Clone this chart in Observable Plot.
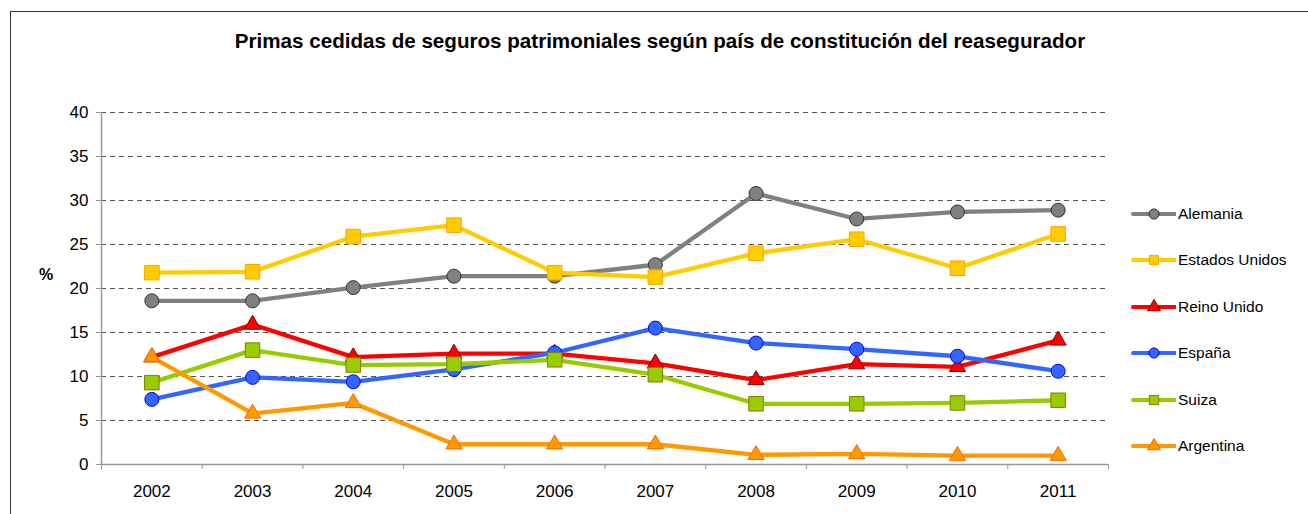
<!DOCTYPE html>
<html>
<head>
<meta charset="utf-8">
<script src="https://cdn.jsdelivr.net/npm/d3@7"></script>
<script src="https://cdn.jsdelivr.net/npm/@observablehq/plot@0.6"></script>
<style>
  html, body { margin: 0; padding: 0; background: #fff; }
  #wrap { position: relative; width: 1308px; height: 514px; overflow: hidden; font-family: Arial, "Liberation Sans", sans-serif; color: #000; }
  #border { position: absolute; left: 10px; top: 11px; width: 1400px; height: 600px; border: 1px solid #333; box-sizing: border-box; }
  #title { position: absolute; left: 0; width: 1320px; top: 30px; text-align: center; font-weight: bold; font-size: 20.6px; line-height: 22px; white-space: nowrap; }
  #ylab { position: absolute; left: 39px; top: 266px; font-weight: bold; font-size: 16px; line-height: 18px; }
  #chart { position: absolute; left: 0; top: 0; }
  .leg { position: absolute; left: 1130px; height: 20px; display: flex; align-items: center; font-size: 15.5px; white-space: nowrap; }
  .leg svg { display: block; margin-right: 2px; }
</style>
</head>
<body>
<div id="wrap">
  <div id="border"></div>
  <div id="chart"></div>
  <div id="title">Primas cedidas de seguros patrimoniales según país de constitución del reasegurador</div>
  <div id="ylab">%</div>
</div>
<script>
// ---- data ----
const years = [2002, 2003, 2004, 2005, 2006, 2007, 2008, 2009, 2010, 2011];
const seriesNames = ["Alemania", "Estados Unidos", "Reino Unido", "España", "Suiza", "Argentina"];
const alemania      = [18.6, 18.6, 20.1, 21.4, 21.4, 22.7, 30.8, 27.9, 28.7, 28.9];
const estadosUnidos = [21.8, 21.9, 25.9, 27.2, 21.8, 21.3, 24.0, 25.6, 22.3, 26.2];
const reinoUnido    = [12.2, 15.9, 12.2, 12.6, 12.6, 11.5, 9.6, 11.4, 11.1, 14.1];
const espana        = [7.4, 9.9, 9.4, 10.8, 12.7, 15.5, 13.8, 13.1, 12.3, 10.6];
const suiza         = [9.3, 13.0, 11.3, 11.4, 11.9, 10.2, 6.9, 6.9, 7.0, 7.3];
const argentina     = [12.2, 5.8, 7.0, 2.3, 2.3, 2.3, 1.1, 1.2, 1.0, 1.0];
const yTicks = [0, 5, 10, 15, 20, 25, 30, 35, 40];

// ---- styles (kept apart from data) ----
const styles = {
  "Alemania":       {line: "#808080", fill: "#808080", stroke: "#333333", symbol: "circle", r: 7},
  "Estados Unidos": {line: "#FFCC00", fill: "#FFCC00", stroke: "#FFA200", symbol: "square", r: 8.2},
  "Reino Unido":    {line: "#FF0000", fill: "#FF0000", stroke: "#800000", symbol: "triangle", r: 6},
  "España":         {line: "#3366FF", fill: "#3366FF", stroke: "#0000FF", symbol: "circle", r: 7},
  "Suiza":          {line: "#99CC00", fill: "#99CC00", stroke: "#808000", symbol: "square", r: 8.2},
  "Argentina":      {line: "#FF9900", fill: "#FF9900", stroke: "#FF6600", symbol: "triangle", r: 6}
};

const valuesBySeries = [alemania, estadosUnidos, reinoUnido, espana, suiza, argentina];
const rows = seriesNames.flatMap((name, i) => years.map((year, j) => ({series: name, year, value: valuesBySeries[i][j]})));
const boundaries = [years[0] - 0.5, ...years.map(y => y + 0.5)];

const seriesMarks = seriesNames.flatMap(name => {
  const s = styles[name];
  const data = rows.filter(d => d.series === name);
  return [
    Plot.line(data, {x: "year", y: "value", stroke: s.line, strokeWidth: 4.3, strokeLinejoin: "round", strokeLinecap: "round"}),
    Plot.dot(data, {x: "year", y: "value", symbol: s.symbol, r: s.r, fill: s.fill, stroke: s.stroke, strokeWidth: 1})
  ];
});

const chart = Plot.plot({
  width: 1308,
  height: 514,
  marginLeft: 101,
  marginRight: 200,
  marginTop: 112,
  marginBottom: 50,
  style: {fontFamily: 'Arial, "Liberation Sans", sans-serif', fontSize: "17px", color: "#000", background: "transparent"},
  x: {type: "linear", domain: [boundaries[0], boundaries[boundaries.length - 1]]},
  y: {domain: [0, 40]},
  marks: [
    Plot.ruleY(yTicks.filter(d => d > 0), {stroke: "#555", strokeWidth: 1, strokeDasharray: "5,4"}),
    Plot.axisY({ticks: yTicks, tickSize: 5, tickPadding: 8, stroke: "#999", fill: "#000", label: null}),
    Plot.axisX({ticks: boundaries, tickSize: 5, tickFormat: () => "", stroke: "#999", label: null}),
    Plot.axisX({ticks: years, tickSize: 0, tickPadding: 20, tickFormat: d => String(d), fill: "#000", label: null}),
    Plot.ruleX([boundaries[0]], {stroke: "#999", strokeWidth: 1.5}),
    Plot.ruleY([0], {stroke: "#999", strokeWidth: 1.5}),
    ...seriesMarks
  ]
});
document.getElementById("chart").appendChild(chart);

// ---- legend ----
const wrap = document.getElementById("wrap");
const sym = {circle: d3.symbolCircle, square: d3.symbolSquare, triangle: d3.symbolTriangle};
const legendSize = {circle: 80, square: 85, triangle: 75};
seriesNames.forEach((name, i) => {
  const s = styles[name];
  const div = document.createElement("div");
  div.className = "leg";
  div.style.top = (204 + i * 46.4) + "px";
  const path = d3.symbol(sym[s.symbol], legendSize[s.symbol])();
  div.innerHTML = `<svg width="46" height="20" viewBox="0 0 46 20">
    <line x1="3" y1="10" x2="45" y2="10" stroke="${s.line}" stroke-width="4" stroke-linecap="round"/>
    <path d="${path}" transform="translate(24,10)" fill="${s.fill}" stroke="${s.stroke}" stroke-width="1"/>
  </svg><span>${name}</span>`;
  wrap.appendChild(div);
});
</script>
</body>
</html>
